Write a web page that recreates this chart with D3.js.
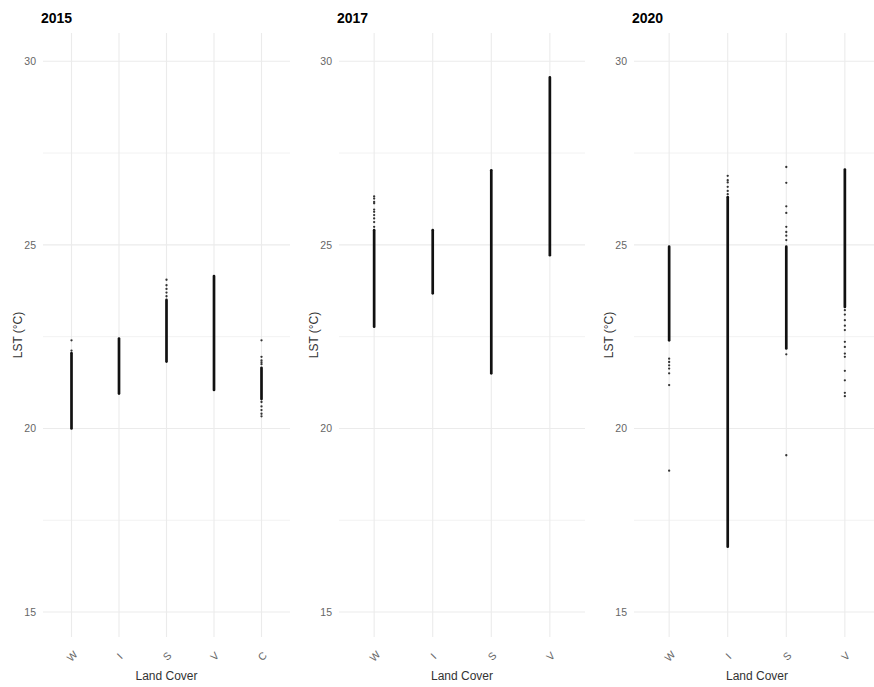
<!DOCTYPE html>
<html>
<head>
<meta charset="utf-8">
<script src="https://cdn.jsdelivr.net/npm/d3@7"></script>
<style>
  body { margin: 0; background: #fff; }
  svg { display: block; font-family: "Liberation Sans", Arial, sans-serif; }
</style>
</head>
<body>
<svg id="chart" width="874" height="687"></svg>
<script>
// ---- data ----
const years = ["2015", "2017", "2020"];
const categories2015 = ["W", "I", "S", "V", "C"];
const categories2017 = ["W", "I", "S", "V"];
const categories2020 = ["W", "I", "S", "V"];

// dense part of each column: [low, high] LST (°C)
const core2015 = [[20.0, 22.05], [20.95, 22.45], [21.82, 23.5], [21.05, 24.15], [20.8, 21.65]];
const core2017 = [[22.77, 25.4], [23.68, 25.4], [21.5, 27.03], [24.72, 29.56]];
const core2020 = [[22.40, 24.95], [16.78, 26.3], [22.18, 24.95], [23.31, 27.05]];

// isolated points of each column
const points2015 = [
  [22.12, 22.4],
  [],
  [23.6, 23.7, 23.8, 23.9, 24.05],
  [],
  [22.4, 21.95, 21.85, 21.8, 21.75, 20.72, 20.6, 20.5, 20.4, 20.33]
];
const points2017 = [
  [26.32, 26.26, 26.17, 26.13, 25.96, 25.90, 25.81, 25.72, 25.62, 25.49],
  [],
  [],
  []
];
const points2020 = [
  [21.9, 21.81, 21.72, 21.63, 21.5, 21.18, 18.85],
  [26.88, 26.76, 26.7, 26.58, 26.47, 26.38],
  [27.12, 26.69, 26.05, 25.87, 25.49, 25.35, 25.25, 25.13, 22.02, 19.27],
  [23.22, 23.1, 22.95, 22.8, 22.68, 22.36, 22.22, 22.04, 21.95, 21.57, 21.31, 20.97, 20.88]
];

const yMajorTicks = [15, 20, 25, 30];
const yMinorTicks = [17.5, 22.5, 27.5];
const yDomain = [14.32, 30.77];
const yTitle = "LST (°C)";
const xTitle = "Land Cover";

// ---- layout ----
const panels = [
  { year: years[0], cats: categories2015, core: core2015, pts: points2015, left: 43, right: 290 },
  { year: years[1], cats: categories2017, core: core2017, pts: points2017, left: 339, right: 585 },
  { year: years[2], cats: categories2020, core: core2020, pts: points2020, left: 634, right: 880 }
];
const plotTop = 33, plotBottom = 637;

const svg = d3.select("#chart");
const y = d3.scaleLinear().domain(yDomain).range([plotBottom, plotTop]);

panels.forEach(p => {
  const x = d3.scalePoint().domain(p.cats).range([p.left, p.right]).padding(0.6);
  const g = svg.append("g");

  // grid
  g.selectAll("line.minor").data(yMinorTicks).join("line")
    .attr("x1", p.left).attr("x2", p.right)
    .attr("y1", d => y(d)).attr("y2", d => y(d))
    .attr("stroke", "#f0f0f0").attr("stroke-width", 0.9);
  g.selectAll("line.major").data(yMajorTicks).join("line")
    .attr("x1", p.left).attr("x2", p.right)
    .attr("y1", d => y(d)).attr("y2", d => y(d))
    .attr("stroke", "#ebebeb").attr("stroke-width", 1.1);
  g.selectAll("line.vgrid").data(p.cats).join("line")
    .attr("x1", d => x(d)).attr("x2", d => x(d))
    .attr("y1", plotTop).attr("y2", plotBottom)
    .attr("stroke", "#ebebeb").attr("stroke-width", 1.1);

  // dense columns
  g.selectAll("line.core").data(p.cats).join("line")
    .attr("x1", d => x(d)).attr("x2", d => x(d))
    .attr("y1", (d, i) => y(p.core[i][0])).attr("y2", (d, i) => y(p.core[i][1]))
    .attr("stroke", "#111").attr("stroke-width", 2.7).attr("stroke-linecap", "round");

  // sparse points
  const flat = [];
  p.cats.forEach((c, i) => p.pts[i].forEach(v => flat.push({ c, v })));
  g.selectAll("circle").data(flat).join("circle")
    .attr("cx", d => x(d.c)).attr("cy", d => y(d.v)).attr("r", 1.15)
    .attr("fill", "#333");

  // y axis
  const ya = g.append("g").attr("transform", `translate(${p.left},0)`)
    .call(d3.axisLeft(y).tickValues(yMajorTicks).tickSize(0).tickPadding(7));
  ya.select(".domain").remove();
  ya.selectAll("text").attr("font-size", 10.5).attr("fill", "#666")
    .attr("font-family", "Liberation Sans, Arial, sans-serif");

  // x axis
  const xa = g.append("g").attr("transform", `translate(0,${plotBottom})`)
    .call(d3.axisBottom(x).tickSize(0).tickPadding(0));
  xa.select(".domain").remove();
  xa.selectAll("text")
    .attr("y", 0).attr("dy", null)
    .attr("text-anchor", "middle").attr("dominant-baseline", "central")
    .attr("transform", "translate(0,19) rotate(-45)")
    .attr("font-size", 10.5).attr("fill", "#666")
    .attr("font-family", "Liberation Sans, Arial, sans-serif");

  // titles
  svg.append("text").attr("x", p.left - 2).attr("y", 23)
    .attr("font-size", 14).attr("font-weight", "bold").attr("fill", "#000")
    .text(p.year);
  svg.append("text").attr("x", (p.left + p.right) / 2).attr("y", 680)
    .attr("text-anchor", "middle").attr("font-size", 12).attr("fill", "#333")
    .text(xTitle);
  svg.append("text")
    .attr("transform", `translate(${p.left - 21},${(plotTop + plotBottom) / 2}) rotate(-90)`)
    .attr("text-anchor", "middle").attr("font-size", 12).attr("fill", "#333")
    .text(yTitle);
});
</script>
</body>
</html>
